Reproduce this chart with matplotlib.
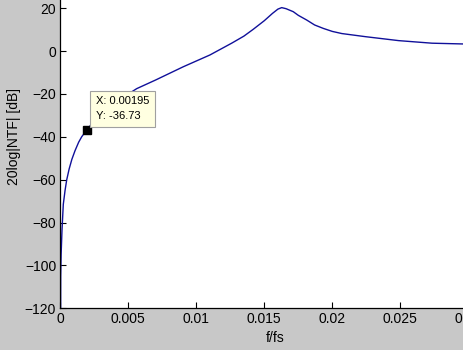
import matplotlib
matplotlib.use("Agg")
import matplotlib.pyplot as plt

# Data
freq = [0, 0.00003, 0.00006, 0.000125, 0.00022, 0.00035, 0.00047, 0.00065,
        0.00085, 0.00108, 0.00135, 0.00157, 0.00195, 0.0025, 0.003, 0.004,
        0.005, 0.00562, 0.007, 0.00904, 0.011, 0.0126, 0.0135, 0.01419,
        0.0150, 0.0156, 0.0160, 0.01628, 0.0166, 0.01713, 0.0175, 0.01812,
        0.0187, 0.01934, 0.0200, 0.0207, 0.02243, 0.02488, 0.02733, 0.0299,
        0.0305]
ntf_db = [-200, -105, -95, -83.5, -71.5, -65, -60.1, -55,
          -50.5, -46.5, -42.5, -40.0, -36.73, -32.5, -29.3, -24.0,
          -20.0, -17.5, -13.5, -7.3, -1.8, 3.7, 7.0, 10.2,
          14.2, 17.6, 19.6, 20.3, 19.8, 18.4, 16.7, 14.5,
          12.2, 10.6, 9.2, 8.2, 6.75, 4.9, 3.7, 3.3,
          3.2]
xticks = [0, 0.005, 0.01, 0.015, 0.02, 0.025, 0.03]
xticklabels = ["0", "0.005", "0.01", "0.015", "0.02", "0.025", "0.03"]
yticks = [-120, -100, -80, -60, -40, -20, 0, 20]
tip_x = 0.00195
tip_y = -36.73

plt.rcParams['font.family'] = ['Liberation Sans', 'DejaVu Sans']

W, H = 464, 350
fig = plt.figure(figsize=(W / 100, H / 100), dpi=100)
fig.patch.set_facecolor('#c8c8c8')

left_px, bottom_px = 60.3, 308.3
right_px, top_px = 468.3, -34.6
ax = fig.add_axes([left_px / W, (H - bottom_px) / H,
                   (right_px - left_px) / W, (bottom_px - top_px) / H])
ax.set_facecolor('white')
ax.plot(freq, ntf_db, color='#10109a', lw=1.0, solid_joinstyle='round')
ax.set_xlim(0, 0.03)
ax.set_ylim(-120, 40)
ax.set_xticks(xticks)
ax.set_xticklabels(xticklabels)
ax.set_yticks(yticks)
ax.tick_params(direction='in', length=4, width=0.8, labelsize=10, colors='black', pad=3)
for s in ax.spines.values():
    s.set_linewidth(0.9)
    s.set_color('black')

ax.set_xlabel('f/fs', fontsize=10)
ax.xaxis.set_label_coords((275.3 - left_px) / (right_px - left_px), -(331 - bottom_px) / (bottom_px - top_px))
ax.set_ylabel('20log|NTF| [dB]', fontsize=10)
ax.yaxis.set_label_coords(-(left_px - 21) / (right_px - left_px), 0.5)

# data tip
ax.plot([tip_x], [tip_y], marker='s', ms=6, color='black', ls='none', zorder=5)
ax.annotate(f"X: {tip_x}\nY: {tip_y}", xy=(tip_x, tip_y), xycoords='data',
            xytext=(96, 229), textcoords='figure pixels', fontsize=8,
            va='bottom', ha='left', linespacing=1.6,
            bbox=dict(boxstyle='square,pad=0.5', fc='#ffffe1', ec='#a0a0a0', lw=0.8),
            zorder=6)

fig.savefig('out.png', dpi=100, facecolor=fig.get_facecolor())
